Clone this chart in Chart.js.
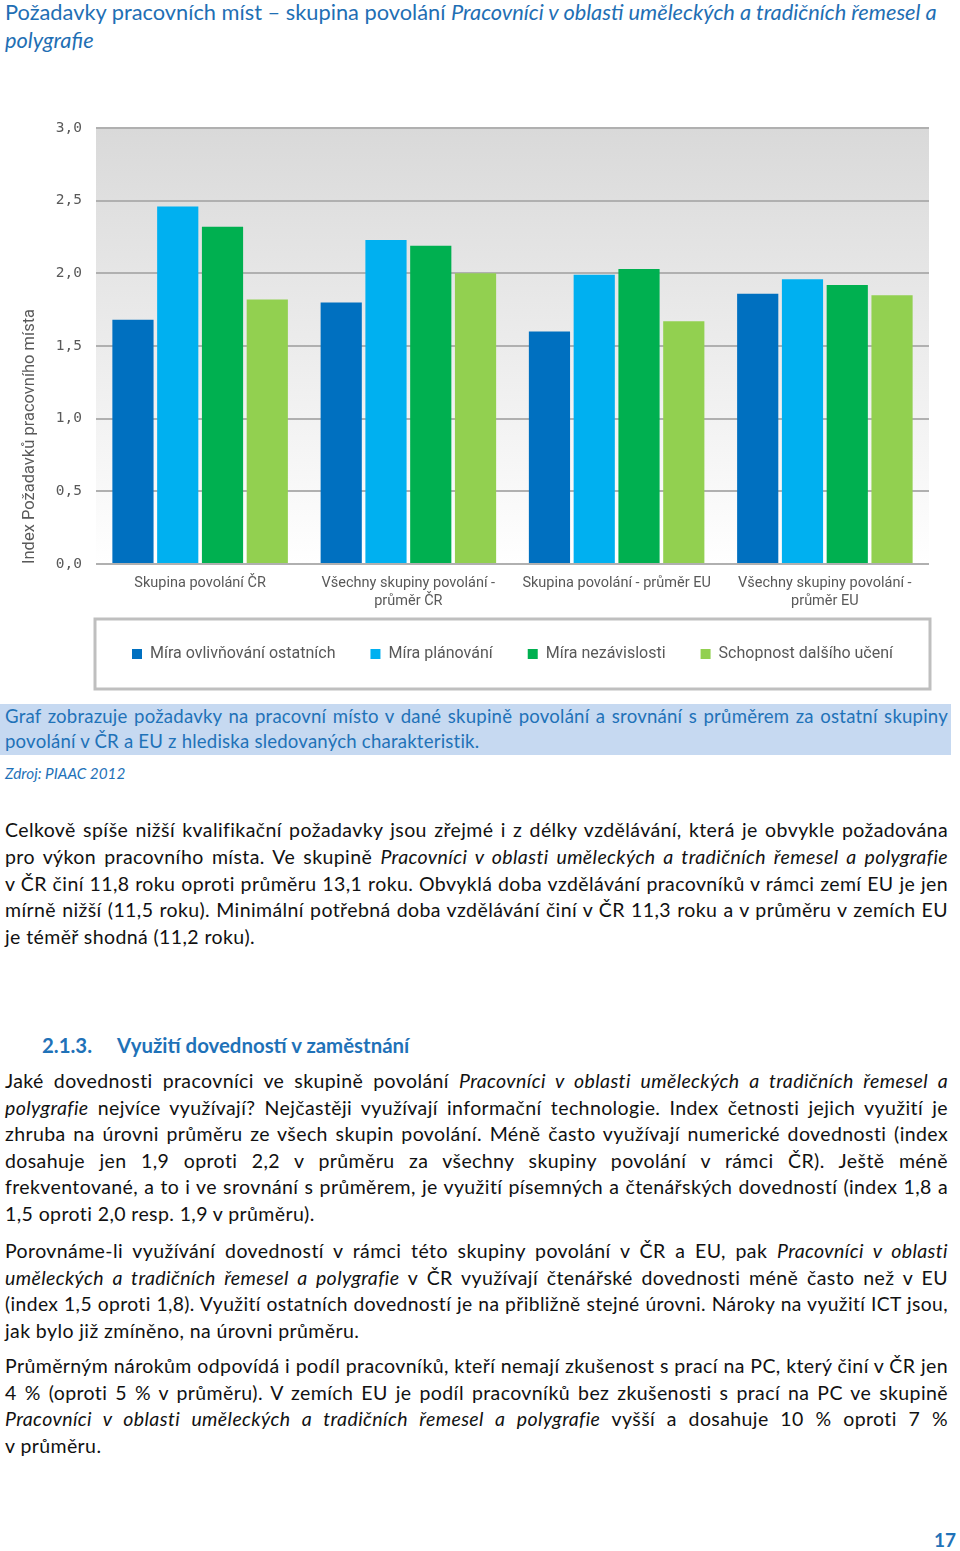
<!DOCTYPE html>
<html lang="cs">
<head>
<meta charset="utf-8">
<script src="https://cdn.jsdelivr.net/npm/chart.js@4.4.1/dist/chart.umd.min.js"></script>
<style>
  body { margin: 0; width: 960px; height: 1551px; background: #fff; position: relative; font-family: Lato, "Open Sans", sans-serif; color: #111; }
  .abs { position: absolute; }
  #title { left: 5px; top: -2px; color: #1f6fb4; font-size: 21.8px; line-height: 28px; white-space: nowrap; }
  #chartBox { left: 0; top: 100px; width: 960px; height: 592px; }
  #caption { left: 0; top: 704px; width: 951px; height: 51px; background: #c6d9f1; }
  #caption .txt { position: absolute; left: 5px; top: 0; width: 943px; color: #1f72b8; font-size: 18.6px; letter-spacing: 0.2px; }
  #zdroj { left: 5px; top: 763px; font-size: 15.3px; font-style: italic; color: #1f72b8; line-height: 20px; }
  .par { left: 5px; width: 943px; font-size: 19.5px; letter-spacing: 0.4px; }
  .ln { display: block; text-align: justify; text-align-last: justify; overflow: visible; }
  .ln.last { text-align-last: left; }
  #heading { top: 1032px; font-weight: bold; color: #1f72b8; font-size: 20.4px; line-height: 26px; }
  #pageNo { left: 934px; top: 1527px; font-weight: bold; color: #1f72b8; font-size: 19px; line-height: 26px; }
</style>
</head>
<body>

<div id="title" class="abs">Požadavky pracovních míst – skupina povolání <i>Pracovníci v oblasti uměleckých a tradičních řemesel a</i><br><i>polygrafie</i></div>

<div id="chartBox" class="abs"><canvas id="chart"></canvas></div>

<div id="caption" class="abs">
  <div class="txt">
    <span class="ln" style="height:25px;line-height:25px">Graf zobrazuje požadavky na pracovní místo v dané skupině povolání a srovnání s průměrem za ostatní skupiny</span>
    <span class="ln last" style="height:25px;line-height:25px">povolání v ČR a EU z hlediska sledovaných charakteristik.</span>
  </div>
</div>
<div id="zdroj" class="abs">Zdroj: PIAAC 2012</div>

<div class="abs par" style="top:817px" data-lh="26.8">
  <span class="ln">Celkově spíše nižší kvalifikační požadavky jsou zřejmé i z délky vzdělávání, která je obvykle požadována</span>
  <span class="ln">pro výkon pracovního místa. Ve skupině <i>Pracovníci v oblasti uměleckých a tradičních řemesel a polygrafie</i></span>
  <span class="ln">v ČR činí 11,8 roku oproti průměru 13,1 roku. Obvyklá doba vzdělávání pracovníků v rámci zemí EU je jen</span>
  <span class="ln">mírně nižší (11,5 roku). Minimální potřebná doba vzdělávání činí v ČR 11,3 roku a v průměru v zemích EU</span>
  <span class="ln last">je téměř shodná (11,2 roku).</span>
</div>

<div id="heading" class="abs">
  <span class="abs" style="left:42px">2.1.3.</span>
  <span class="abs" style="left:117px;white-space:nowrap">Využití dovedností v zaměstnání</span>
</div>

<div class="abs par" style="top:1068px" data-lh="26.6">
  <span class="ln">Jaké dovednosti pracovníci ve skupině povolání <i>Pracovníci v oblasti uměleckých a tradičních řemesel a</i></span>
  <span class="ln"><i>polygrafie</i> nejvíce využívají? Nejčastěji využívají informační technologie. Index četnosti jejich využití je</span>
  <span class="ln">zhruba na úrovni průměru ze všech skupin povolání. Méně často využívají numerické dovednosti (index</span>
  <span class="ln">dosahuje jen 1,9 oproti 2,2 v průměru za všechny skupiny povolání v rámci ČR). Ještě méně</span>
  <span class="ln">frekventované, a to i ve srovnání s průměrem, je využití písemných a čtenářských dovedností (index 1,8 a</span>
  <span class="ln last">1,5 oproti 2,0 resp. 1,9 v průměru).</span>
</div>

<div class="abs par" style="top:1238px" data-lh="26.5">
  <span class="ln">Porovnáme-li využívání dovedností v rámci této skupiny povolání v ČR a EU, pak <i>Pracovníci v oblasti</i></span>
  <span class="ln"><i>uměleckých a tradičních řemesel a polygrafie</i> v ČR využívají čtenářské dovednosti méně často než v EU</span>
  <span class="ln">(index 1,5 oproti 1,8). Využití ostatních dovedností je na přibližně stejné úrovni. Nároky na využití ICT jsou,</span>
  <span class="ln last">jak bylo již zmíněno, na úrovni průměru.</span>
</div>

<div class="abs par" style="top:1353px" data-lh="26.7">
  <span class="ln">Průměrným nárokům odpovídá i podíl pracovníků, kteří nemají zkušenost s prací na PC, který činí v ČR jen</span>
  <span class="ln">4 % (oproti 5 % v průměru). V zemích EU je podíl pracovníků bez zkušenosti s prací na PC ve skupině</span>
  <span class="ln"><i>Pracovníci v oblasti uměleckých a tradičních řemesel a polygrafie</i> vyšší a dosahuje 10 % oproti 7 %</span>
  <span class="ln last">v průměru.</span>
</div>

<div id="pageNo" class="abs">17</div>

<script>
// data z grafu
const categories = [
  ["Skupina povolání ČR"],
  ["Všechny skupiny povolání -", "průměr ČR"],
  ["Skupina povolání - průměr EU"],
  ["Všechny skupiny povolání -", "průměr EU"]
];
const seriesNames = ["Míra ovlivňování ostatních", "Míra plánování", "Míra nezávislosti", "Schopnost dalšího učení"];
const seriesColors = ["#0070c0", "#00b0f0", "#00b050", "#92d050"];
const ovlivnovani = [1.68, 1.80, 1.60, 1.86];
const planovani = [2.46, 2.23, 1.99, 1.96];
const nezavislost = [2.32, 2.19, 2.03, 1.92];
const uceni = [1.82, 2.00, 1.67, 1.85];
const yTickLabels = ["0,0", "0,5", "1,0", "1,5", "2,0", "2,5", "3,0"];

const chartFont = 'Roboto, sans-serif';

// radky odstavcu - vyska a zmenseni pokud se nevejdou
document.querySelectorAll('.par').forEach(p => {
  const lh = p.dataset.lh;
  p.querySelectorAll('.ln').forEach(el => {
    el.style.height = lh + 'px';
    el.style.lineHeight = lh + 'px';
  });
});
document.querySelectorAll('.ln').forEach(el => {
  let size = parseFloat(getComputedStyle(el).fontSize);
  while (el.scrollHeight > el.clientHeight + 2 && size > 10) {
    size -= 0.25;
    el.style.fontSize = size + 'px';
  }
});

// sede pozadi s prechodem
const plotBackground = {
  id: 'plotBackground',
  beforeDraw(chart) {
    const { ctx, chartArea: a } = chart;
    const g = ctx.createLinearGradient(0, a.top, 0, a.bottom);
    g.addColorStop(0, '#d9d9d9');
    g.addColorStop(1, '#ffffff');
    ctx.save();
    ctx.fillStyle = g;
    ctx.fillRect(a.left, a.top, a.right - a.left, a.bottom - a.top);
    ctx.restore();
  }
};

// ramecek kolem legendy
const legendFrame = {
  id: 'legendFrame',
  afterDraw(chart) {
    const { ctx, chartArea: a } = chart;
    const hb = chart.legend.legendHitBoxes[0];
    const cy = hb.top + hb.height / 2;
    ctx.save();
    ctx.strokeStyle = '#bfbfbf';
    ctx.lineWidth = 3;
    ctx.strokeRect(a.left - 1, cy - 35, a.right - a.left + 2, 70);
    ctx.restore();
  }
};

const datasets = [ovlivnovani, planovani, nezavislost, uceni].map((values, i) => ({
  label: seriesNames[i],
  data: values,
  backgroundColor: seriesColors[i],
  borderWidth: 0,
  categoryPercentage: 0.86,
  barPercentage: 0.92
}));

new Chart(document.getElementById('chart'), {
  type: 'bar',
  data: { labels: categories, datasets: datasets },
  options: {
    responsive: true,
    maintainAspectRatio: false,
    animation: false,
    events: [],
    layout: { padding: { top: 28, bottom: 20, left: 0, right: 31 } },
    plugins: {
      tooltip: { enabled: false },
      legend: {
        position: 'bottom',
        fullSize: false,
        labels: {
          boxWidth: 10,
          boxHeight: 10,
          padding: 35,
          color: '#595959',
          font: { family: chartFont, size: 16 }
        }
      }
    },
    scales: {
      x: {
        grid: { display: false, drawTicks: false },
        border: { display: false },
        ticks: { color: '#595959', padding: 10, maxRotation: 0, autoSkip: false, font: { family: chartFont, size: 14.5, lineHeight: 1.25 } },
        afterFit(scale) { scale.height = 47; }
      },
      y: {
        min: 0,
        max: 3,
        ticks: {
          stepSize: 0.5,
          padding: 14,
          color: '#595959',
          font: { family: '"DejaVu Sans Mono", monospace', size: 14.5 },
          callback: (v, i) => yTickLabels[i]
        },
        grid: { color: '#b0b0b0', lineWidth: 2, drawTicks: false },
        border: { display: false },
        title: {
          display: true,
          text: 'Index Požadavků pracovního místa',
          align: 'start',
          color: '#595959',
          padding: { top: 20 },
          font: { family: chartFont, size: 16.5 }
        },
        afterFit(scale) { scale.width = 96; }
      }
    }
  },
  plugins: [plotBackground, legendFrame]
});
</script>
</body>
</html>
